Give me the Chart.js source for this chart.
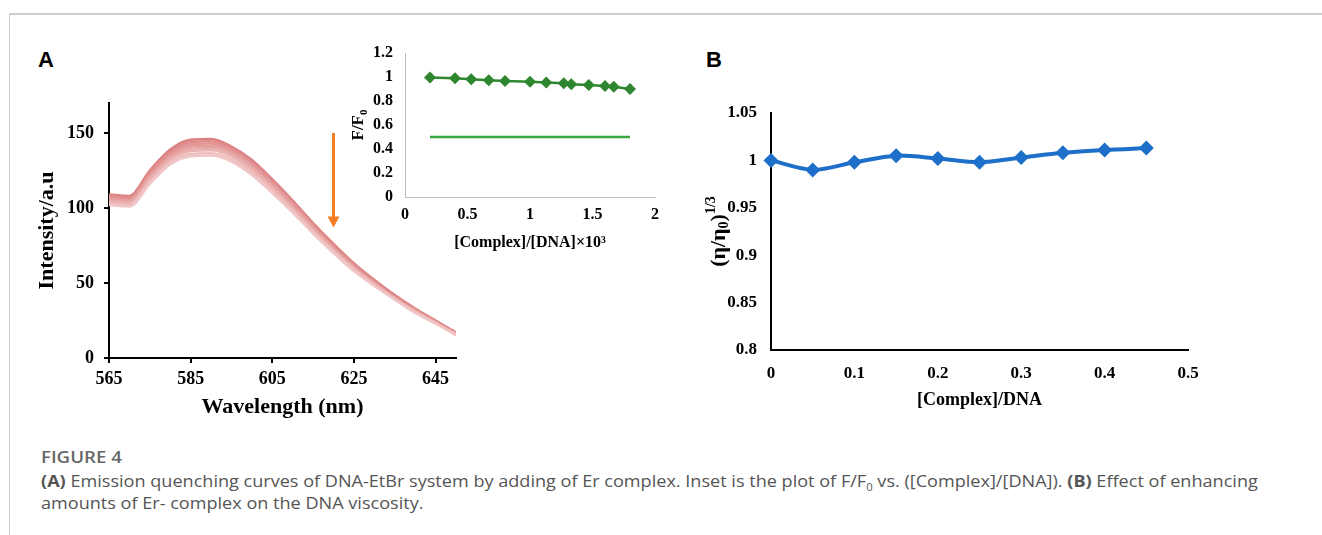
<!DOCTYPE html>
<html><head><meta charset="utf-8">
<script src="https://cdn.jsdelivr.net/npm/chart.js@4.4.1/dist/chart.umd.min.js"></script>
<style>
html,body{margin:0;padding:0;background:#fff;width:1322px;height:535px;overflow:hidden;}
body{position:relative;}
canvas{position:absolute;}
.frame{position:absolute;left:9px;top:13px;width:1313px;height:520px;border-top:2px solid #cccccc;border-left:1px solid #cccccc;}
.plabel{position:absolute;font-family:'Liberation Sans',Arial,sans-serif;font-weight:bold;font-size:22px;color:#000;line-height:22px;}
.cap{position:absolute;left:41px;top:446px;font-family:'Open Sans','Noto Sans',sans-serif;color:#555;font-size:16px;line-height:22px;white-space:nowrap;transform:scaleX(1.13);transform-origin:0 0;}
.cap .fig{font-weight:600;color:#666;font-size:16.5px;margin-bottom:2px;}
.cap b{font-weight:700;color:#555;}
.cap sub{font-size:10px;line-height:0;}
</style></head><body>
<div class="frame"></div>
<div class="plabel" style="left:38px;top:49px;">A</div>
<div class="plabel" style="left:706px;top:49px;">B</div>
<canvas id="cA" width="450" height="345" style="left:20px;top:80px;"></canvas>
<canvas id="cI" width="320" height="224" style="left:350px;top:31px;"></canvas>
<canvas id="cB" width="560" height="345" style="left:690px;top:80px;"></canvas>
<div class="cap">
<div class="fig">FIGURE 4</div>
<div><b>(A)</b> Emission quenching curves of DNA-EtBr system by adding of Er complex. Inset is the plot of F/F<sub>0</sub> vs. ([Complex]/[DNA]). <b>(B)</b> Effect of enhancing</div>
<div>amounts of Er- complex on the DNA viscosity.</div>
</div>
<script>
// ---------- Data ----------
const wavelengths = [565,570,575,580,585,590,595,600,605,610,615,620,625,630,635,640,645,650];
const spectrum1 = [109,108,125,139,145.5,146,141,132,119,105,90,76,63,52,42,33,25,17];
const spectrum2 = [108,107,124,137.5,144,144.5,140,131,118,104,89,75,62,51,41,32.5,24.5,16.5];
const spectrum3 = [107,106,122.5,136,142.5,143,138.5,129.5,117,103,88,74,61.5,50.5,40.5,32,24,16.5];
const spectrum4 = [106,105,121,134.5,141,141.5,137,128,115.5,101.5,87,73,60.5,50,40,31.5,24,16];
const spectrum5 = [105,104,120,133,139.5,140,136,127,114,100.5,86,72.5,60,49.5,40,31,23.5,16];
const spectrum6 = [104,103,119,132,138,138.5,134.5,125.5,113,99.5,85,71.5,59.5,49,39.5,31,23.5,15.5];
const spectrum7 = [103,102,117.5,130.5,136,136.5,132.5,123.5,111.5,98,84,71,59,48.5,39,30.5,23,15.5];
const spectrum8 = [102,101,116,129,134.5,135,131,122,110,97,83,70,58,48,39,30,23,15];
const spectraA = [spectrum1,spectrum2,spectrum3,spectrum4,spectrum5,spectrum6,spectrum7,spectrum8];
const mainXTicks = [565,585,605,625,645];
const mainYTicks = [0,50,100,150];
const arrowAt = 620, arrowFrom = 150, arrowTo = 87;

const insetX = [0.2,0.4,0.53,0.67,0.8,1.0,1.13,1.27,1.33,1.47,1.6,1.67,1.8];
const insetY = [0.995,0.99,0.982,0.972,0.966,0.96,0.955,0.947,0.94,0.933,0.925,0.919,0.90];
const insetRefX = [0.2,1.8];
const insetRefY = [0.5,0.5];
const insetXTicks = [0,0.5,1,1.5,2];
const insetYTicks = [0,0.2,0.4,0.6,0.8,1,1.2];

const ratioB = [0,0.05,0.1,0.15,0.2,0.25,0.3,0.35,0.4,0.45];
const viscB = [1.0,0.99,0.998,1.005,1.002,0.998,1.003,1.008,1.011,1.013];
const bXTicks = [0,0.1,0.2,0.3,0.4,0.5];
const bYTicks = [0.8,0.85,0.9,0.95,1,1.05];

// ---------- Styles ----------
const SERIF = "'Liberation Serif','Times New Roman',serif";
const spectraColors = ['#dc8080','#df8a8a','#e29494','#e59e9e','#e8a8a8','#ebb2b2','#eebcbc','#f1c6c6'];
const fmt = v => String(+Number(v).toFixed(4));
const setTicks = arr => scale => { scale.ticks = arr.map(v => ({value: v})); };

function pts(xs, ys){ return xs.map((x,i)=>({x:x, y:ys[i]})); }

// ---------- Chart A ----------
const arrowPlugin = {
  id: 'arrow',
  afterDatasetsDraw(chart){
    const {ctx, scales:{x,y}} = chart;
    const px = x.getPixelForValue(arrowAt);
    const y1 = y.getPixelForValue(arrowFrom), y2 = y.getPixelForValue(arrowTo);
    ctx.save();
    ctx.strokeStyle = '#f57c22'; ctx.fillStyle = '#f57c22'; ctx.lineWidth = 3;
    ctx.beginPath(); ctx.moveTo(px, y1); ctx.lineTo(px, y2 - 9); ctx.stroke();
    ctx.beginPath(); ctx.moveTo(px - 6, y2 - 11); ctx.lineTo(px + 6, y2 - 11); ctx.lineTo(px, y2); ctx.closePath(); ctx.fill();
    ctx.restore();
  }
};

new Chart(document.getElementById('cA'), {
  type: 'line',
  data: { datasets: spectraA.map((s,i)=>({
    data: pts(wavelengths, s), borderColor: spectraColors[i], borderWidth: 2.5,
    pointRadius: 0, cubicInterpolationMode: 'monotone', fill: false
  })).reverse() },
  options: {
    responsive: false, animation: false, devicePixelRatio: 1,
    layout: { padding: { left: 14, top: 23, right: 14, bottom: 4 } },
    plugins: { legend: {display:false}, tooltip: {enabled:false} },
    scales: {
      x: { type: 'linear', min: 565, max: 650,
        afterBuildTicks: setTicks(mainXTicks),
        afterFit: s => { s.height = 63; },
        border: { display: true, color: '#000', width: 2 },
        grid: { display: true, drawOnChartArea: false, drawTicks: true, tickLength: 5, color: '#000', lineWidth: 2 },
        ticks: { color: '#000', padding: 6, maxRotation: 0, callback: fmt, font: { family: SERIF, weight: 'bold', size: 18 } },
        title: { display: true, text: 'Wavelength (nm)', color: '#000', padding: 0, font: { family: SERIF, weight: 'bold', size: 22 } }
      },
      y: { type: 'linear', min: 0, max: 170,
        afterBuildTicks: setTicks(mainYTicks),
        afterFit: s => { s.width = 75; },
        border: { display: true, color: '#000', width: 2 },
        grid: { display: true, drawOnChartArea: false, drawTicks: true, tickLength: 5, color: '#000', lineWidth: 2 },
        ticks: { color: '#000', padding: 10, callback: fmt, font: { family: SERIF, weight: 'bold', size: 18 } },
        title: { display: true, text: 'Intensity/a.u', color: '#000', padding: 0, font: { family: SERIF, weight: 'bold', size: 22 } }
      }
    }
  },
  plugins: [arrowPlugin]
});

// rotated title with sub/superscripts
function drawRotTitle(ctx, cx, cy, parts){
  ctx.save();
  ctx.translate(cx, cy); ctx.rotate(-Math.PI/2);
  ctx.fillStyle = '#000'; ctx.textBaseline = 'middle'; ctx.textAlign = 'left';
  let total = 0;
  parts.forEach(p => { ctx.font = `bold ${p.size}px ${SERIF}`; p.w = ctx.measureText(p.t).width; total += p.w; });
  let x = -total/2;
  parts.forEach(p => { ctx.font = `bold ${p.size}px ${SERIF}`; ctx.fillText(p.t, x, p.dy); x += p.w; });
  ctx.restore();
}

// ---------- Inset ----------
const insetTitlePlugin = {
  id: 'insetTitle',
  afterDraw(chart){
    const a = chart.chartArea;
    drawRotTitle(chart.ctx, 9, (a.top + a.bottom)/2, [
      {t:'F/F', size:17, dy:0}, {t:'0', size:11, dy:5}
    ]);
  }
};
new Chart(document.getElementById('cI'), {
  type: 'line',
  data: { datasets: [
    { data: pts(insetX, insetY), borderColor: '#2e862e', backgroundColor: '#2e862e', borderWidth: 2.5,
      pointStyle: 'rectRot', pointRadius: 6, pointBorderWidth: 0, tension: 0, clip: false },
    { data: pts(insetRefX, insetRefY), borderColor: '#3da83d', borderWidth: 2.5, pointRadius: 0, tension: 0 }
  ]},
  options: {
    responsive: false, animation: false, devicePixelRatio: 1,
    layout: { padding: { left: 0, top: 22, right: 15, bottom: 3 } },
    plugins: { legend: {display:false}, tooltip: {enabled:false} },
    scales: {
      x: { type: 'linear', min: 0, max: 2,
        afterBuildTicks: setTicks(insetXTicks),
        afterFit: s => { s.height = 55; },
        border: { display: true, color: '#bdbdbd', width: 1 },
        grid: { display: false, drawTicks: false },
        ticks: { color: '#000', padding: 8, maxRotation: 0, callback: fmt, font: { family: SERIF, weight: 'bold', size: 16 } },
        title: { display: true, text: '[Complex]/[DNA]×10³', color: '#000', padding: 0, font: { family: SERIF, weight: 'bold', size: 16 } }
      },
      y: { type: 'linear', min: 0, max: 1.2,
        afterBuildTicks: setTicks(insetYTicks),
        afterFit: s => { s.width = 55; },
        border: { display: true, color: '#bdbdbd', width: 1 },
        grid: { display: false, drawTicks: false },
        ticks: { color: '#000', padding: 12, callback: fmt, font: { family: SERIF, weight: 'bold', size: 16 } }
      }
    }
  },
  plugins: [insetTitlePlugin]
});

// ---------- Chart B ----------
const bTitlePlugin = {
  id: 'bTitle',
  afterDraw(chart){
    const a = chart.chartArea;
    drawRotTitle(chart.ctx, 29, (a.top + a.bottom)/2, [
      {t:'(η/η', size:22, dy:0}, {t:'0', size:14, dy:5}, {t:')', size:22, dy:0}, {t:'1/3', size:14, dy:-8}
    ]);
  }
};
new Chart(document.getElementById('cB'), {
  type: 'line',
  data: { datasets: [
    { data: pts(ratioB, viscB), borderColor: '#1d6fca', backgroundColor: '#1d6fca', borderWidth: 4,
      pointStyle: 'rectRot', pointRadius: 7.5, pointBorderWidth: 0, tension: 0.3, clip: false }
  ]},
  options: {
    responsive: false, animation: false, devicePixelRatio: 1,
    layout: { padding: { left: 0, top: 33, right: 62, bottom: 14 } },
    plugins: { legend: {display:false}, tooltip: {enabled:false} },
    scales: {
      x: { type: 'linear', min: 0, max: 0.5,
        afterBuildTicks: setTicks(bXTicks),
        afterFit: s => { s.height = 61; },
        border: { display: true, color: '#000', width: 2 },
        grid: { display: false, drawTicks: false },
        ticks: { color: '#000', padding: 13, maxRotation: 0, callback: fmt, font: { family: SERIF, weight: 'bold', size: 17 } },
        title: { display: true, text: '[Complex]/DNA', color: '#000', padding: 0, font: { family: SERIF, weight: 'bold', size: 18 } }
      },
      y: { type: 'linear', min: 0.8, max: 1.05,
        afterBuildTicks: setTicks(bYTicks),
        afterFit: s => { s.width = 81; },
        border: { display: true, color: '#000', width: 2 },
        grid: { display: false, drawTicks: false },
        ticks: { color: '#000', padding: 14, callback: fmt, font: { family: SERIF, weight: 'bold', size: 17 } }
      }
    }
  },
  plugins: [bTitlePlugin]
});
</script>
</body></html>
